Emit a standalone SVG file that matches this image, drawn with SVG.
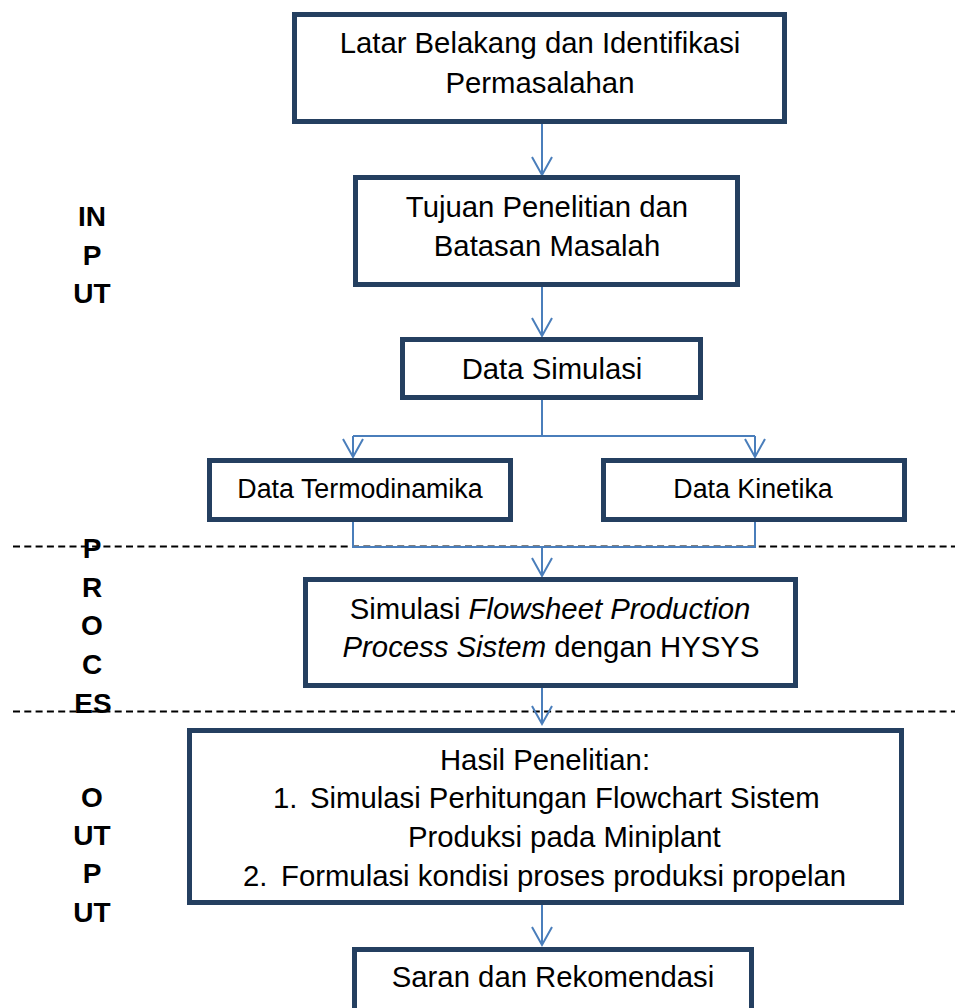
<svg xmlns="http://www.w3.org/2000/svg" width="955" height="1008" viewBox="0 0 955 1008">
<style>
.box{fill:#ffffff;stroke:#243f60;stroke-width:5}
.t{font-family:"Liberation Sans",Arial,sans-serif;font-size:29.3px;fill:#000;text-anchor:middle}
.ts{font-family:"Liberation Sans",Arial,sans-serif;font-size:26.8px;fill:#000;text-anchor:middle}
.tl{font-family:"Liberation Sans",Arial,sans-serif;font-size:29.3px;fill:#000}
.side{font-family:"Liberation Sans",Arial,sans-serif;font-size:28px;font-weight:bold;fill:#000;text-anchor:middle}
.con{fill:none;stroke:#4a7ebb;stroke-width:2}
.arr{marker-end:url(#ah)}
.dash{stroke:#000;stroke-width:2;stroke-dasharray:7 4.3}
</style>
<defs>
<marker id="ah" markerUnits="userSpaceOnUse" markerWidth="22" markerHeight="24" viewBox="-20 -12 22 24" refX="0" refY="0" orient="auto" overflow="visible">
<path d="M-18,-10 L0,0 L-18,10" fill="none" stroke="#4a7ebb" stroke-width="2"/>
</marker>
</defs>
<rect width="955" height="1008" fill="#ffffff"/>
<g id="dividers">
<line class="dash" x1="13" y1="546.5" x2="955" y2="546.5"/>
<line class="dash" x1="13" y1="711.5" x2="955" y2="711.5"/>
</g>
<g id="connectors">
<line class="con arr" x1="542" y1="124" x2="542" y2="175"/>
<line class="con arr" x1="542" y1="287" x2="542" y2="336"/>
<polyline class="con" points="542,400 542,436"/>
<line class="con" x1="353" y1="436" x2="755" y2="436"/>
<line class="con arr" x1="353" y1="436" x2="353" y2="457"/>
<line class="con arr" x1="755" y1="436" x2="755" y2="457"/>
<polyline class="con" points="353,522 353,547 755,547 755,522"/>
<line class="con arr" x1="542" y1="547" x2="542" y2="576"/>
<line class="con arr" x1="542" y1="688" x2="542" y2="724"/>
<line class="con arr" x1="542" y1="905" x2="542" y2="945"/>
</g>
<g id="label-input">
<text class="side" x="92" y="226">IN</text>
<text class="side" x="92" y="265">P</text>
<text class="side" x="92" y="303">UT</text>
</g>
<g id="label-proces">
<text class="side" x="92" y="558">P</text>
<text class="side" x="92" y="597">R</text>
<text class="side" x="92" y="635">O</text>
<text class="side" x="92" y="674">C</text>
<text class="side" x="93" y="713">ES</text>
</g>
<g id="label-output">
<text class="side" x="92" y="807">O</text>
<text class="side" x="92" y="845">UT</text>
<text class="side" x="92" y="883">P</text>
<text class="side" x="92" y="922">UT</text>
</g>
<g id="n-latar">
<rect class="box" x="294.5" y="14.5" width="490" height="107"/>
<text class="t" x="540" y="53">Latar Belakang dan Identifikasi</text>
<text class="t" x="540" y="93">Permasalahan</text>
</g>
<g id="n-tujuan">
<rect class="box" x="355.5" y="177.5" width="382" height="107"/>
<text class="t" x="547" y="217">Tujuan Penelitian dan</text>
<text class="t" x="547" y="256">Batasan Masalah</text>
</g>
<g id="n-datasim">
<rect class="box" x="402.5" y="339.5" width="298" height="58"/>
<text class="t" x="552" y="378.5">Data Simulasi</text>
</g>
<g id="n-termo">
<rect class="box" x="209.5" y="460.5" width="301" height="59"/>
<text class="ts" x="360" y="498">Data Termodinamika</text>
</g>
<g id="n-kinetika">
<rect class="box" x="603.5" y="460.5" width="301" height="59"/>
<text class="ts" x="753" y="498">Data Kinetika</text>
</g>
<g id="n-simulasi">
<rect class="box" x="305.5" y="579.5" width="490" height="106"/>
<text class="t" x="550" y="619">Simulasi <tspan font-style="italic">Flowsheet Production</tspan></text>
<text class="t" x="551" y="657"><tspan font-style="italic">Process Sistem</tspan> dengan HYSYS</text>
</g>
<g id="n-hasil">
<rect class="box" x="189.5" y="730.5" width="712" height="172"/>
<text class="t" x="545" y="770">Hasil Penelitian:</text>
<text class="tl" x="273" y="808">1.</text>
<text class="tl" x="310" y="808">Simulasi Perhitungan Flowchart Sistem</text>
<text class="tl" x="408" y="847">Produksi pada Miniplant</text>
<text class="tl" x="243" y="886">2.</text>
<text class="tl" x="281" y="886">Formulasi kondisi proses produksi propelan</text>
</g>
<g id="n-saran">
<rect class="box" x="354.5" y="949.5" width="397" height="80"/>
<text class="t" x="553" y="987">Saran dan Rekomendasi</text>
</g>
</svg>
